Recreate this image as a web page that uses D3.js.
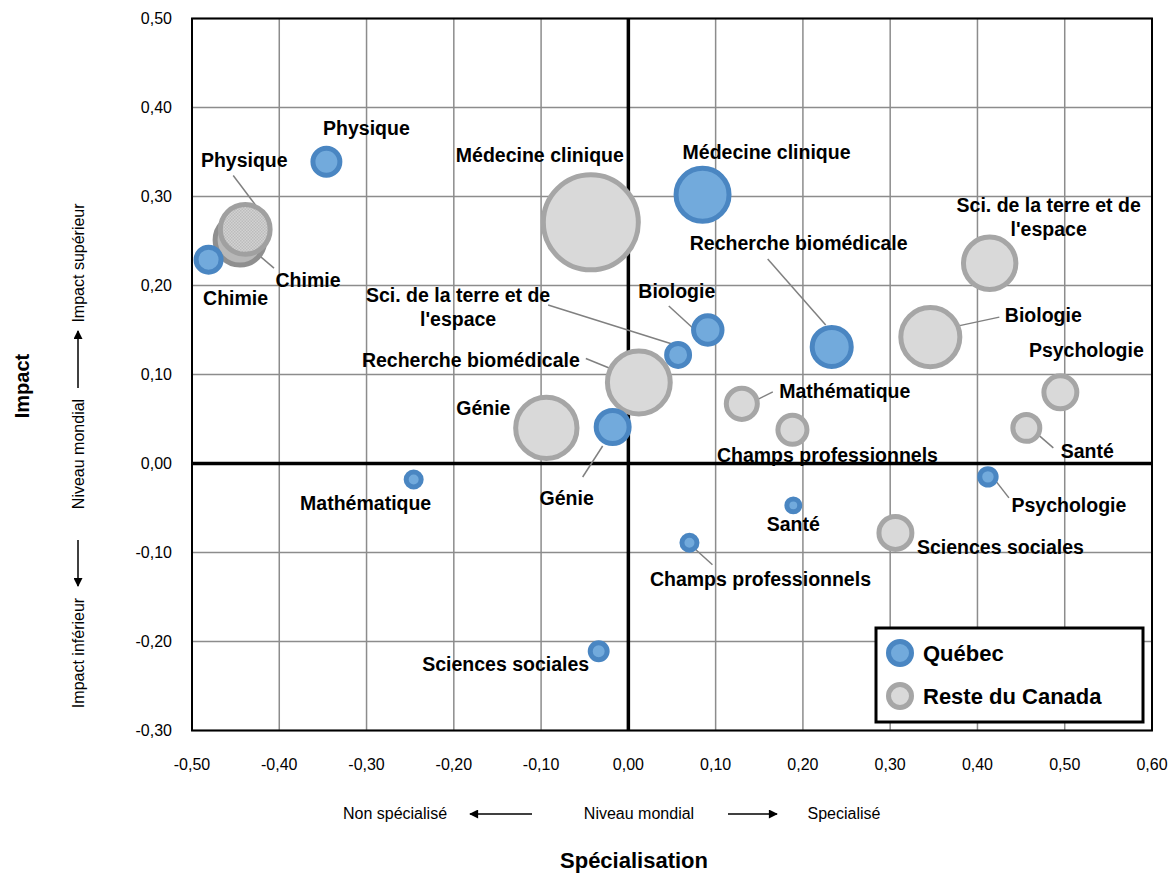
<!DOCTYPE html>
<meta charset="utf-8">
<style>
body { margin: 0; background: #fff; }
svg { display: block; font-family: 'Liberation Sans', Arial, sans-serif; }
.grid line { stroke: #8c8c8c; stroke-width: 1.5; }
.tick-label { font-size: 16px; fill: #000; }
.bubble-label { font-size: 19.5px; font-weight: bold; fill: #000; }
.leader { stroke: #808080; stroke-width: 1.5; }
.note { font-size: 16px; fill: #000; }
.title { font-size: 20px; font-weight: bold; fill: #000; }
</style>
<body>
<svg width="1169" height="875"></svg>
<script src="https://d3js.org/d3.v7.min.js"></script>
<script>

// fields (same order for both series)
var categories = ["Physique", "Chimie", "Médecine clinique", "Recherche biomédicale",
  "Biologie", "Sci. de la terre et de l'espace", "Génie", "Mathématique",
  "Sciences sociales", "Champs professionnels", "Santé", "Psychologie"];

// Québec
var quebecSpec   = [-0.346, -0.481, 0.085, 0.233, 0.091, 0.057, -0.018, -0.246, -0.034, 0.070, 0.189, 0.412];
var quebecImpact = [0.339, 0.229, 0.302, 0.131, 0.150, 0.122, 0.041, -0.018, -0.211, -0.089, -0.047, -0.015];
var quebecSize   = [10.2, 9.0, 33.6, 19.4, 11.2, 7.8, 14.4, 4.0, 4.8, 4.0, 3.2, 4.6];

// Reste du Canada
var rocSpec   = [-0.439, -0.445, -0.043, 0.414, 0.346, 0.012, -0.094, 0.130, 0.306, 0.188, 0.456, 0.495];
var rocImpact = [0.263, 0.251, 0.271, 0.225, 0.142, 0.091, 0.040, 0.067, -0.078, 0.038, 0.040, 0.080];
var rocSize   = [30, 30, 100, 33, 41, 46, 44, 13, 14.4, 11.6, 10.2, 14.4];
// rocSpec/rocImpact/rocSize follow rocOrder, not categories
var rocOrder  = ["Physique", "Chimie", "Médecine clinique", "Sci. de la terre et de l'espace",
  "Biologie", "Recherche biomédicale", "Génie", "Mathématique", "Sciences sociales",
  "Champs professionnels", "Santé", "Psychologie"];

var xTicks = [-0.5, -0.4, -0.3, -0.2, -0.1, 0, 0.1, 0.2, 0.3, 0.4, 0.5, 0.6];
var yTicks = [-0.3, -0.2, -0.1, 0, 0.1, 0.2, 0.3, 0.4, 0.5];

// label placement (pixels from bubble centre) and leader lines, hand placed like in Excel
var quebecLabelPos = {
  "Physique": [40, -27], "Chimie": [27, 45], "Médecine clinique": [64, -36],
  "Recherche biomédicale": [-33, -97], "Biologie": [-31, -32],
  "Sci. de la terre et de l'espace": [-220, -53], "Génie": [-46, 78],
  "Mathématique": [-48, 30], "Sciences sociales": [-93, 20],
  "Champs professionnels": [71, 43], "Santé": [0, 26], "Psychologie": [81, 35]
};
var quebecLeaders = {
  "Recherche biomédicale": [-64, -88, -6, -22], "Biologie": [-39, -24, -15, -2],
  "Sci. de la terre et de l'espace": [-130, -50, -6, -11], "Génie": [-30, 50, -10, 19],
  "Champs professionnels": [2, 3, 23, 22], "Psychologie": [7, 3, 21, 21]
};
var rocLabelPos = {
  "Physique": [-1, -62], "Chimie": [68, 47], "Médecine clinique": [-51, -60],
  "Sci. de la terre et de l'espace": [59, -51], "Biologie": [113, -15],
  "Recherche biomédicale": [-168, -16], "Génie": [-63, -13], "Mathématique": [103, -6],
  "Sciences sociales": [105, 21], "Champs professionnels": [35, 32],
  "Santé": [61, 30], "Psychologie": [26, -35]
};
var rocLeaders = {
  "Physique": [-12, -54, 12, -22], "Chimie": [0, -1, 34, 28],
  "Biologie": [69, -20, 27, -11], "Recherche biomédicale": [-53, -24, -26, -13],
  "Mathématique": [31, -12, 15, -4], "Santé": [12, 7, 27, 20]
};

var svg = d3.select("svg"),
    plot = {left: 192, right: 1152, top: 18.5, bottom: 730.5};

var x = d3.scaleLinear().domain([-0.5, 0.6]).range([plot.left, plot.right]),
    y = d3.scaleLinear().domain([-0.3, 0.5]).range([plot.bottom, plot.top]),
    r = d3.scaleSqrt().domain([0, 100]).range([0, 50]);

var fmt = function(v) { return d3.format(".2f")(v).replace(".", ",").replace("−", "-"); };

var defs = svg.append("defs");
var hatch = defs.append("pattern").attr("id", "hatch")
    .attr("width", 3).attr("height", 3).attr("patternUnits", "userSpaceOnUse");
hatch.append("rect").attr("width", 3).attr("height", 3).attr("fill", "#d2d2d2");
hatch.append("rect").attr("width", 1.5).attr("height", 1.5).attr("fill", "#bcbcbc");
hatch.append("rect").attr("x", 1.5).attr("y", 1.5).attr("width", 1.5).attr("height", 1.5).attr("fill", "#bcbcbc");

defs.append("marker").attr("id", "arrow")
    .attr("viewBox", "0 0 10 10").attr("refX", 9).attr("refY", 5)
    .attr("markerWidth", 10).attr("markerHeight", 9)
    .attr("markerUnits", "userSpaceOnUse")
    .attr("orient", "auto")
  .append("path").attr("d", "M0,0L10,5L0,10Z").attr("fill", "#000");

// gridlines
var grid = svg.append("g").attr("class", "grid");
grid.selectAll(".gx").data(xTicks).enter().append("line")
    .attr("x1", function(d) { return x(d); }).attr("x2", function(d) { return x(d); })
    .attr("y1", plot.top).attr("y2", plot.bottom);
grid.selectAll(".gy").data(yTicks).enter().append("line")
    .attr("y1", function(d) { return y(d); }).attr("y2", function(d) { return y(d); })
    .attr("x1", plot.left).attr("x2", plot.right);

// frame + zero axes
svg.append("rect")
    .attr("x", plot.left).attr("y", plot.top)
    .attr("width", plot.right - plot.left).attr("height", plot.bottom - plot.top)
    .attr("fill", "none").attr("stroke", "#000").attr("stroke-width", 2);
svg.append("line").attr("x1", x(0)).attr("x2", x(0)).attr("y1", plot.top).attr("y2", plot.bottom)
    .attr("stroke", "#000").attr("stroke-width", 3.5);
svg.append("line").attr("y1", y(0)).attr("y2", y(0)).attr("x1", plot.left).attr("x2", plot.right)
    .attr("stroke", "#000").attr("stroke-width", 3.5);

// tick labels
svg.selectAll(".xt").data(xTicks).enter().append("text")
    .attr("class", "tick-label")
    .attr("x", function(d) { return x(d); }).attr("y", 770)
    .attr("text-anchor", "middle").text(fmt);
svg.selectAll(".yt").data(yTicks).enter().append("text")
    .attr("class", "tick-label")
    .attr("x", 172).attr("y", function(d) { return y(d); })
    .attr("dy", "0.35em").attr("text-anchor", "end").text(fmt);

// build point tables
var quebec = categories.map(function(c, i) {
  return {cat: c, spec: quebecSpec[i], impact: quebecImpact[i], size: quebecSize[i]};
});
var roc = rocOrder.map(function(c, i) {
  return {cat: c, spec: rocSpec[i], impact: rocImpact[i], size: rocSize[i]};
});

var styles = {
  quebec: {fill: "#72aadc", stroke: "#4a86c2"},
  roc: {fill: "#d9d9d9", stroke: "#a6a6a6"}
};

function drawLeaders(data, leaders) {
  svg.append("g").selectAll("line")
    .data(data.filter(function(d) { return leaders[d.cat]; }))
    .enter().append("line")
      .attr("class", "leader")
      .attr("x1", function(d) { return x(d.spec) + leaders[d.cat][0]; })
      .attr("y1", function(d) { return y(d.impact) + leaders[d.cat][1]; })
      .attr("x2", function(d) { return x(d.spec) + leaders[d.cat][2]; })
      .attr("y2", function(d) { return y(d.impact) + leaders[d.cat][3]; });
}

function drawBubbles(data, st, cls) {
  svg.append("g").attr("class", cls).selectAll("circle")
    .data(data).enter().append("circle")
      .attr("cx", function(d) { return x(d.spec); })
      .attr("cy", function(d) { return y(d.impact); })
      .attr("r", function(d) { return r(d.size) - 2.5; })
      .attr("fill", st.fill)
      .attr("stroke", st.stroke)
      .attr("stroke-width", 5);
}

function drawLabels(data, pos) {
  var t = svg.append("g").selectAll("text")
    .data(data).enter().append("text")
      .attr("class", "bubble-label")
      .attr("text-anchor", "middle")
      .attr("x", function(d) { return x(d.spec) + pos[d.cat][0]; })
      .attr("y", function(d) { return y(d.impact) + pos[d.cat][1]; });
  t.each(function(d) {
    var lines = d.cat === "Sci. de la terre et de l'espace"
      ? ["Sci. de la terre et de", "l'espace"] : [d.cat];
    var el = d3.select(this);
    lines.forEach(function(s, k) {
      el.append("tspan")
        .attr("x", x(d.spec) + pos[d.cat][0])
        .attr("dy", k === 0 ? 0 : 24)
        .text(s);
    });
  });
}

drawLeaders(roc, rocLeaders);
drawLeaders(quebec, quebecLeaders);

// rest of canada first, reversed so Physique sits over Chimie
drawBubbles(roc.slice().reverse(), styles.roc, "roc");
svg.selectAll(".roc circle")
    .filter(function(d) { return d.cat === "Chimie"; })
    .attr("fill", "#b8b8b8").attr("stroke", "#8f8f8f");
svg.selectAll(".roc circle")
    .filter(function(d) { return d.cat === "Physique"; })
    .attr("fill", "url(#hatch)").attr("stroke", "#a0a0a0");
drawBubbles(quebec, styles.quebec, "quebec");

drawLabels(roc, rocLabelPos);
drawLabels(quebec, quebecLabelPos);

// legend
var legend = svg.append("g");
legend.append("rect")
    .attr("x", 876).attr("y", 628).attr("width", 267).attr("height", 94)
    .attr("fill", "#fff").attr("stroke", "#000").attr("stroke-width", 3);
[["Québec", styles.quebec], ["Reste du Canada", styles.roc]].forEach(function(e, i) {
  legend.append("circle")
      .attr("cx", 900).attr("cy", 653 + i * 43).attr("r", 11.5)
      .attr("fill", e[1].fill).attr("stroke", e[1].stroke).attr("stroke-width", 5);
  legend.append("text")
      .attr("x", 923).attr("y", 661 + i * 43)
      .attr("font-size", 22).attr("font-weight", "bold")
      .text(e[0]);
});

// axis notes
function arrow(x1, y1, x2, y2) {
  svg.append("line").attr("x1", x1).attr("y1", y1).attr("x2", x2).attr("y2", y2)
      .attr("stroke", "#000").attr("stroke-width", 1.5)
      .attr("marker-end", "url(#arrow)");
}

svg.append("text").attr("class", "note").attr("x", 395).attr("y", 819)
    .attr("text-anchor", "middle").text("Non spécialisé");
svg.append("text").attr("class", "note").attr("x", 639).attr("y", 819)
    .attr("text-anchor", "middle").text("Niveau mondial");
svg.append("text").attr("class", "note").attr("x", 844).attr("y", 819)
    .attr("text-anchor", "middle").text("Specialisé");
arrow(532, 814, 470, 814);
arrow(728, 814, 777, 814);

[["Impact supérieur", 263], ["Niveau mondial", 454], ["Impact inférieur", 653]].forEach(function(n) {
  svg.append("text").attr("class", "note")
      .attr("transform", "translate(78," + n[1] + ") rotate(-90)")
      .attr("text-anchor", "middle").attr("dy", "0.35em")
      .text(n[0]);
});
arrow(78, 388, 78, 331);
arrow(78, 540, 78, 586);

svg.append("text").attr("class", "title")
    .attr("transform", "translate(22,386) rotate(-90)")
    .attr("text-anchor", "middle").attr("dy", "0.35em")
    .text("Impact");
svg.append("text").attr("class", "title")
    .attr("x", 634).attr("y", 868).attr("text-anchor", "middle")
    .style("font-size", "22px")
    .text("Spécialisation");

</script>
